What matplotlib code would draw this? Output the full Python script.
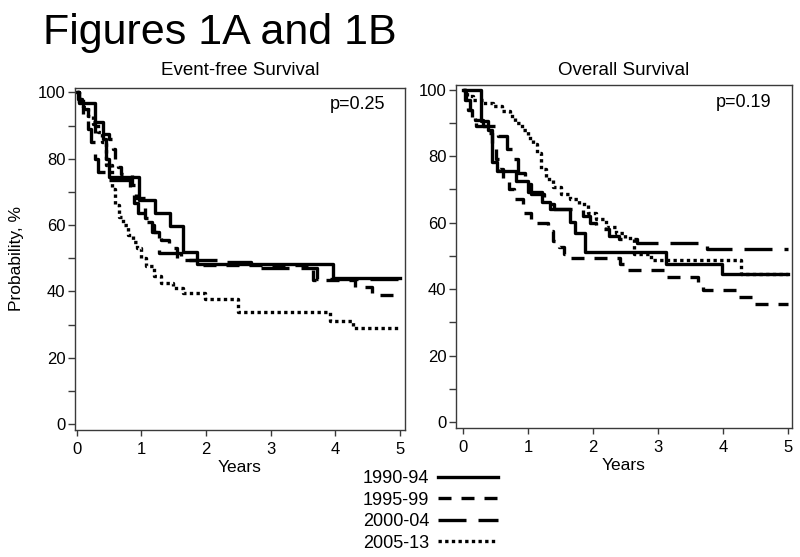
import matplotlib
matplotlib.use("Agg")
import matplotlib.pyplot as plt
from matplotlib.ticker import MultipleLocator

plt.rcParams['font.family'] = ['Liberation Sans', 'DejaVu Sans']

# Kaplan-Meier step data (years, %)
# Event-free survival
efs_t_1990 = [0, 0.03, 0.28, 0.41, 0.45, 0.5, 0.97, 1.21, 1.44, 1.64, 1.86, 3.97, 5.0]
efs_s_1990 = [100, 96.7, 91.2, 86, 80, 74.6, 67.5, 63.6, 59.8, 52, 48.1, 44.1, 44.1]
efs_t_1995 = [0, 0.02, 0.08, 0.18, 0.28, 0.5, 0.56, 0.6, 0.64, 0.68, 0.85, 0.92, 1.06, 1.12,
              1.2, 1.3, 1.42, 1.55, 1.9, 3.66, 4.3, 4.56, 5.0]
efs_s_1995 = [100, 98, 95, 91, 87.5, 86, 83, 80, 77.5, 75.5, 72, 68, 62, 60,
              58, 55.5, 53, 49.5, 48, 43.3, 41.2, 38.9, 38.9]
efs_t_2000 = [0, 0.03, 0.1, 0.17, 0.22, 0.28, 0.33, 0.45, 0.82, 0.88, 0.95, 1.06, 1.16, 1.28,
              1.62, 2.2, 2.7, 3.72, 5.0]
efs_s_2000 = [100, 97, 93, 89, 85, 80, 76, 73.5, 70, 66.5, 63.5, 61, 58, 51.5,
              49.4, 48.9, 47, 43.6, 43.6]
efs_t_2005 = [0, 0.03, 0.1, 0.18, 0.26, 0.33, 0.39, 0.46, 0.54, 0.6, 0.66, 0.72, 0.8, 0.87,
              0.93, 1.0, 1.07, 1.19, 1.3, 1.49, 1.65, 1.98, 2.5, 3.92, 4.28, 5.0]
efs_s_2005 = [100, 98, 95.5, 93, 90.5, 88, 85, 78, 71, 66, 62.5, 60, 57, 55,
              53, 50, 47.5, 44.5, 42.5, 40.9, 39.4, 37.6, 33.7, 31.2, 28.9, 28.9]

# Overall survival
os_t_1990 = [0, 0.27, 0.38, 0.44, 0.52, 0.82, 1.0, 1.21, 1.34, 1.64, 1.72, 1.87, 3.13, 3.98, 5.0]
os_s_1990 = [100, 90.5, 88, 78.2, 75.6, 72.6, 69.2, 66.2, 64.2, 60.2, 57, 51.1, 47.6, 44.5, 44.5]
os_t_1995 = [0, 0.03, 0.08, 0.13, 0.2, 0.4, 0.45, 0.5, 0.55, 0.62, 0.7, 0.78, 0.92, 1.05,
             1.3, 1.38, 1.47, 1.55, 1.65, 2.42, 2.5, 3.1, 3.62, 3.7, 4.2, 4.45, 5.0]
os_s_1995 = [100, 97, 94, 91, 89, 87, 83, 79, 76, 73, 70, 67, 63, 60,
             57.5, 54.5, 52.6, 50.6, 49.2, 47.6, 45.6, 43.6, 41.6, 39.6, 37.6, 35.6, 35.6]
os_t_2000 = [0, 0.04, 0.1, 0.18, 0.3, 0.54, 0.67, 0.77, 0.84, 0.95, 1.05, 1.25, 1.4, 1.85,
             1.95, 2.05, 2.25, 2.4, 2.67, 3.75, 5.0]
os_s_2000 = [100, 97, 94, 91, 89, 86, 82, 79, 75, 71.5, 68.5, 65.5, 64.2, 62,
             60, 58, 56, 55, 54, 52, 52]
os_t_2005 = [0, 0.05, 0.15, 0.3, 0.46, 0.6, 0.72, 0.8, 0.9, 1.0, 1.08, 1.14, 1.2, 1.28, 1.38,
             1.5, 1.64, 1.79, 1.92, 2.05, 2.2, 2.35, 2.5, 2.63, 2.9, 4.28, 5.0]
os_s_2005 = [100, 98, 97, 96, 95, 93.5, 92, 90, 88, 85.5, 83.5, 81, 76, 73, 70.6,
             68.5, 67, 65.6, 63, 61, 58.6, 57, 55.5, 50.7, 48.6, 44.5, 44.5]

labels = ["1990-94", "1995-99", "2000-04", "2005-13"]
p_values = ["p=0.25", "p=0.19"]
panel_titles = ["Event-free Survival", "Overall Survival"]

styles = [
    dict(linestyle="-"),
    dict(linestyle=(0, (3.9, 3.0))),
    dict(linestyle=(0, (8.4, 3.6))),
    dict(linestyle=(0, (1.0, 1.0))),
]

fig = plt.figure(figsize=(8, 5.57), dpi=100)
ax1 = fig.add_axes([75 / 800, 1 - 430 / 557, 330 / 800, 342.3 / 557])
ax2 = fig.add_axes([456 / 800, 1 - 428 / 557, 336 / 800, 343 / 557])

panels = [
    (ax1, [(efs_t_1990, efs_s_1990), (efs_t_1995, efs_s_1995),
           (efs_t_2000, efs_s_2000), (efs_t_2005, efs_s_2005)], (-0.026, 5.077), 9),
    (ax2, [(os_t_1990, os_s_1990), (os_t_1995, os_s_1995),
           (os_t_2000, os_s_2000), (os_t_2005, os_s_2005)], (-0.112, 5.066), 7),
]

spine_col = "#3a3a3a"
handles = []
for i, (ax, curves, xl, tpad) in enumerate(panels):
    for (t, s), st, lab in zip(curves, styles, labels):
        h, = ax.step(t, s, where="post", color="black", lw=2.4, label=lab, **st)
        if i == 0:
            handles.append(h)
    ax.set_xlim(*xl)
    ax.set_ylim(-1.8, 101.4)
    ax.set_xticks(range(6))
    ax.yaxis.set_major_locator(MultipleLocator(20))
    ax.yaxis.set_minor_locator(MultipleLocator(10))
    ax.tick_params(axis="y", which="both", length=5, width=1, color=spine_col,
                   labelsize=12, pad=2)
    ax.tick_params(axis="x", length=4, width=1, color=spine_col, labelsize=12, pad=5)
    for sp in ax.spines.values():
        sp.set_color(spine_col)
        sp.set_linewidth(1)
    ax.set_xlabel("Years", fontsize=12.5, labelpad=2)
    ax.set_title(panel_titles[i], fontsize=13.5, pad=tpad)
    ax.text(0.94, 0.975, p_values[i], transform=ax.transAxes, ha="right", va="top",
            fontsize=13)

ax1.set_ylabel("Probability, %", fontsize=12.5, labelpad=9.5)

fig.text(43 / 800, 1 - 44 / 557, "Figures 1A and 1B", fontsize=31, va="baseline")

fig.legend(handles=handles, labels=labels, loc="upper left",
           bbox_to_anchor=(363 / 800, 1 - 470 / 557), frameon=False,
           markerfirst=False, handlelength=3.3, handletextpad=0.5,
           labelspacing=0.25, borderpad=0, borderaxespad=0, fontsize=13)

fig.savefig("out.png", dpi=100)
